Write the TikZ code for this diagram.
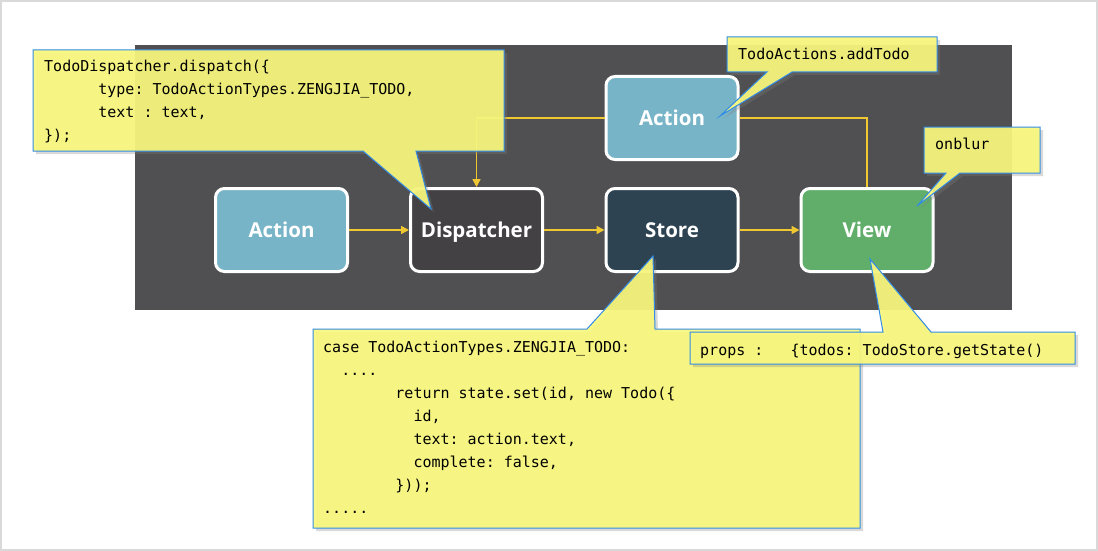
\documentclass[tikz,border=0pt]{standalone}
\usepackage{fontspec}
\setsansfont{Open Sans}
\newfontfamily\codefont{DejaVu Sans Mono}
\usetikzlibrary{arrows.meta,shadows}

\definecolor{panelgray}{RGB}{80,80,82}
\definecolor{framegray}{RGB}{217,217,217}
\definecolor{actionblue}{RGB}{120,180,200}
\definecolor{dispgray}{RGB}{67,65,67}
\definecolor{storenavy}{RGB}{46,67,81}
\definecolor{viewgreen}{RGB}{96,174,106}
\definecolor{flowyellow}{RGB}{240,200,50}
\definecolor{noteyellow}{RGB}{248,247,125}
\definecolor{noteblue}{RGB}{50,140,230}

\newcommand{\codeindent}[1]{\hspace*{#1\fontcharwd\font`x}}

\begin{document}
\begin{tikzpicture}[x=1pt, y=-1pt,
        flow_box/.style={draw=white, line width=3pt, rounded corners=9pt,
            minimum width=132pt, minimum height=83pt, inner sep=0pt,
            text height=14.5pt, text depth=0pt,
            text=white, font=\sffamily\bfseries\fontsize{20.5}{24}\selectfont},
        flow_line/.style={draw=flowyellow, line width=1.6pt},
        flow_arrow/.style={flow_line, -{Triangle[length=8pt,width=8pt]}},
        note/.style={draw=noteblue, line width=1pt, fill=noteyellow, fill opacity=0.93,
            drop shadow={shadow xshift=3pt, shadow yshift=-3pt, opacity=0.3}},
        code_text/.style={anchor=north west, inner sep=0pt, align=left,
            font=\codefont\fontsize{15}{23}\selectfont}
    ]
    \useasboundingbox (0,0) rectangle (1098,551);
    \draw[framegray, line width=2pt] (1,1) rectangle (1097,550);

    % Fondo scuro
    \fill[panelgray] (135,45) rectangle (1012,310);

    % Blocchi del flusso
    \node[flow_box, fill=actionblue] (action) at (281.5,230) {Action};
    \node[flow_box, fill=dispgray] (dispatcher) at (476.5,230) {Dispatcher};
    \node[flow_box, fill=storenavy] (store) at (672,230) {Store};
    \node[flow_box, fill=viewgreen] (view) at (867,230) {View};
    \node[flow_box, fill=actionblue] (newaction) at (672,118) {Action};

    % Frecce
    \draw[flow_arrow] (action) -- (dispatcher);
    \draw[flow_arrow] (dispatcher) -- (store);
    \draw[flow_arrow] (store) -- (view);
    \draw[flow_arrow] (newaction.west) -| (dispatcher.north);
    \draw[flow_line] (view.north) |- (newaction.east);

    % Fumetti
    \draw[note] (33,50) -- (504,50) -- (504,151) -- (416,151) -- (431,209)
        -- (363,151) -- (33,151) -- cycle;
    \node[code_text] (dispatchcode) at (44,60)
        {TodoDispatcher.dispatch(\{\\
         \codeindent{6}type:~TodoActionTypes.ZENGJIA\_TODO,\\
         \codeindent{6}text~:~text,\\
         \});};

    \draw[note] (727,37) -- (937,37) -- (937,72) -- (792,72) -- (720,116)
        -- (767,72) -- (727,72) -- cycle;
    \node[code_text] (addtodo) at (738,48) {TodoActions.addTodo};

    \draw[note] (924,127) -- (1040,127) -- (1040,173) -- (960,173) -- (917,206)
        -- (946,173) -- (924,173) -- cycle;
    \node[code_text] (onblur) at (935,138) {onblur};

    \draw[note] (313,329) -- (587,329) -- (653,256) -- (655,329) -- (860,329)
        -- (860,528) -- (313,528) -- cycle;
    \node[code_text] (storecode) at (323,341)
        {case~TodoActionTypes.ZENGJIA\_TODO:\\
         \codeindent{2}....\\
         \codeindent{8}return~state.set(id,~new~Todo(\{\\
         \codeindent{10}id,\\
         \codeindent{10}text:~action.text,\\
         \codeindent{10}complete:~false,\\
         \codeindent{8}\}));\\
         .....};

    \draw[note] (690,332) -- (883,332) -- (870,259) -- (931,332) -- (1075,332)
        -- (1075,364) -- (690,364) -- cycle;
    \node[code_text] (props) at (700,344) {props~:~~~\{todos:~TodoStore.getState()};
\end{tikzpicture}
\end{document}
